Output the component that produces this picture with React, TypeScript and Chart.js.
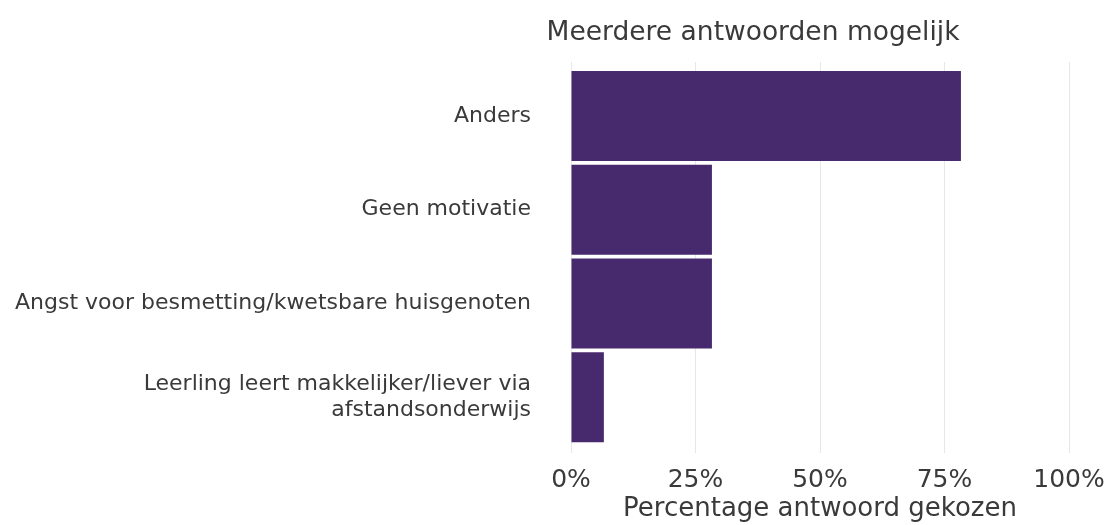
import React, { useEffect, useRef } from "react";
import { Chart, registerables } from "chart.js";

Chart.register(...registerables);

const categories: (string | string[])[] = [
  "Anders",
  "Geen motivatie",
  "Angst voor besmetting/kwetsbare huisgenoten",
  ["Leerling leert makkelijker/liever via", "afstandsonderwijs"],
];
const percentages: number[] = [78.3, 28.3, 28.3, 6.6];
const tickValues: number[] = [0, 25, 50, 75, 100];
const chartTitle = "Meerdere antwoorden mogelijk";
const xAxisTitle = "Percentage antwoord gekozen";

const FONT = "'DejaVu Sans', Verdana, sans-serif";
const TEXT = "#3a3a3a";
const BAR = "#472a6d";
const GRID = "#e6e6ee";

const titlePlugin = {
  id: "customTitle",
  afterDraw(chart: any) {
    const ctx = chart.ctx;
    ctx.save();
    ctx.font = `26.5px ${FONT}`;
    ctx.fillStyle = TEXT;
    ctx.textAlign = "center";
    ctx.textBaseline = "middle";
    ctx.fillText(chartTitle, 753, 33);
    ctx.restore();
  },
};

export default function App() {
  const ref = useRef<HTMLCanvasElement>(null);
  useEffect(() => {
    const chart = new Chart(ref.current!, {
      type: "bar",
      data: {
        labels: categories,
        datasets: [
          {
            data: percentages,
            backgroundColor: BAR,
            borderWidth: 0,
            barPercentage: 0.96,
            categoryPercentage: 1,
          },
        ],
      },
      options: {
        indexAxis: "y",
        animation: false,
        responsive: true,
        maintainAspectRatio: false,
        layout: { padding: { top: 62, right: 0, left: 0, bottom: 0 } },
        plugins: {
          legend: { display: false },
          tooltip: { enabled: false },
          title: { display: false },
        },
        scales: {
          x: {
            type: "linear",
            position: "bottom",
            min: 0,
            max: 100,
            afterBuildTicks: (s: any) => {
              s.ticks = tickValues.map((v) => ({ value: v }));
            },
            afterFit: (s: any) => {
              s.height = 81;
              s.paddingRight = 42;
            },
            ticks: {
              callback: (v: any) => v + "%",
              font: { family: FONT, size: 25 },
              color: TEXT,
              padding: 12,
              maxRotation: 0,
            },
            grid: { color: GRID, tickLength: 9, tickColor: GRID, lineWidth: 1 },
            border: { display: false },
            title: {
              display: true,
              text: xAxisTitle,
              font: { family: FONT, size: 26 },
              color: TEXT,
              padding: { top: 0, bottom: 0 },
            },
          },
          x2: {
            type: "linear",
            position: "top",
            min: 0,
            max: 100,
            afterBuildTicks: (s: any) => {
              s.ticks = tickValues.map((v) => ({ value: v }));
            },
            afterFit: (s: any) => {
              s.paddingRight = 42;
            },
            ticks: { display: false },
            grid: { drawOnChartArea: false, tickLength: 7, tickColor: GRID },
            border: { display: false },
          },
          y: {
            type: "category",
            afterFit: (s: any) => {
              s.width = 571;
            },
            ticks: {
              font: { family: FONT, size: 22 },
              color: TEXT,
              padding: 40,
              crossAlign: "near",
            },
            grid: { display: false, drawTicks: false },
            border: { display: false },
          },
        },
      },
      plugins: [titlePlugin],
    });
    return () => chart.destroy();
  }, []);
  return (
    <div style={{ position: "absolute", left: 0, top: 0, width: 1111, height: 525, background: "#fff" }}>
      <canvas ref={ref} />
    </div>
  );
}
